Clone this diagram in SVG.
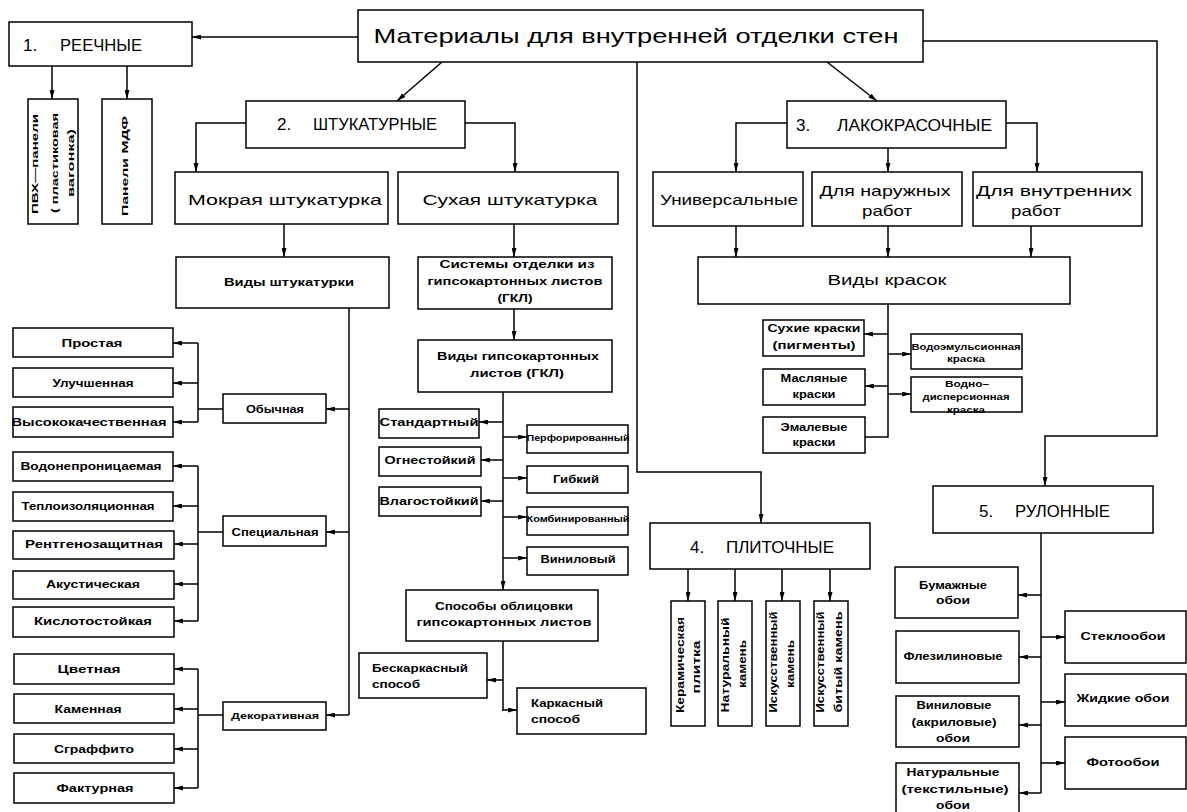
<svg xmlns="http://www.w3.org/2000/svg" width="1187" height="812" viewBox="0 0 1187 812">
<defs>
<marker id="a" markerWidth="9" markerHeight="5" refX="9" refY="2.5" orient="auto" markerUnits="userSpaceOnUse"><path d="M0,0 L9,2.5 L0,5 z" fill="#000"/></marker>
<style>
rect{fill:#fff;stroke:#000;stroke-width:1.5}
text{font-family:"Liberation Sans",Arial,sans-serif;fill:#000;dominant-baseline:central}
.c{text-anchor:middle}
.ti{font-size:21px}
.h{font-size:17px}
.m{font-size:15px}
.s{font-size:11px;font-weight:bold}
.x{font-size:9.5px;font-weight:bold}
#connectors path{fill:none;stroke:#000;stroke-width:1.5}
#connectors .ar{marker-end:url(#a)}
</style>
</defs>
<rect x="-5" y="-5" width="1200" height="830" style="fill:#fff;stroke:none"/>
<g id="connectors">
<path class="ar" d="M358,37 H192"/>
<path class="ar" d="M52,66 V99"/>
<path class="ar" d="M127,66 V99"/>
<path class="ar" d="M442,62 L397,101"/>
<path class="ar" d="M246,123 H196 V172"/>
<path class="ar" d="M465,123 H515 V172"/>
<path class="ar" d="M827,62 L877,101"/>
<path class="ar" d="M787,123 H736 V172"/>
<path class="ar" d="M888,148 V172"/>
<path class="ar" d="M1006,123 H1037 V172"/>
<path class="ar" d="M736,226 V257"/>
<path class="ar" d="M888,226 V257"/>
<path class="ar" d="M1031,226 V257"/>
<path class="ar" d="M923,41 H1157 V436 H1045 V486"/>
<path class="ar" d="M637,62 V472 H761 V523"/>
<path class="ar" d="M284,224 V257"/>
<path d="M349,308 V715"/>
<path class="ar" d="M349,409 H326"/>
<path class="ar" d="M349,532 H326"/>
<path class="ar" d="M349,715 H326"/>
<path d="M223,409 H198 M198,343 V422"/>
<path class="ar" d="M198,343 H173"/>
<path class="ar" d="M198,383 H173"/>
<path class="ar" d="M198,422 H173"/>
<path d="M223,532 H198 M198,466 V621"/>
<path class="ar" d="M198,466 H173"/>
<path class="ar" d="M198,506 H173"/>
<path class="ar" d="M198,544 H174"/>
<path class="ar" d="M198,584 H174"/>
<path class="ar" d="M198,621 H174"/>
<path d="M223,715 H198 M198,669 V788"/>
<path class="ar" d="M198,669 H174"/>
<path class="ar" d="M198,709 H174"/>
<path class="ar" d="M198,749 H174"/>
<path class="ar" d="M198,788 H174"/>
<path class="ar" d="M514,224 V257"/>
<path class="ar" d="M514,309 V340"/>
<path class="ar" d="M503,392 V590"/>
<path class="ar" d="M503,422 H479"/>
<path class="ar" d="M503,460 H481"/>
<path class="ar" d="M503,501 H481"/>
<path class="ar" d="M503,437 H527"/>
<path class="ar" d="M503,478 H527"/>
<path class="ar" d="M503,517 H527"/>
<path class="ar" d="M503,558 H527"/>
<path d="M503,641 V711"/>
<path class="ar" d="M503,680 H487"/>
<path class="ar" d="M503,710 H517"/>
<path d="M888,304 V437 H865"/>
<path class="ar" d="M888,334 H864"/>
<path class="ar" d="M888,386 H865"/>
<path class="ar" d="M888,354 H911"/>
<path class="ar" d="M888,394 H911"/>
<path class="ar" d="M688,569 V601"/>
<path class="ar" d="M735,569 V601"/>
<path class="ar" d="M782,569 V601"/>
<path class="ar" d="M830,569 V601"/>
<path d="M1041,533 V793"/>
<path class="ar" d="M1041,793 H1019"/>
<path class="ar" d="M1041,595 H1018"/>
<path class="ar" d="M1041,657 H1019"/>
<path class="ar" d="M1041,725 H1019"/>
<path class="ar" d="M1041,637 H1065"/>
<path class="ar" d="M1041,702 H1065"/>
<path class="ar" d="M1041,763 H1065"/>
</g>
<g id="main"><rect x="358" y="10" width="565" height="52"/><text class="c ti" x="636" y="35" textLength="525" lengthAdjust="spacingAndGlyphs">Материалы для внутренней отделки стен</text></g>
<g id="reech"><rect x="9" y="22" width="183" height="44"/><text class="h" x="23" y="45">1.</text><text class="h" x="60" y="45" textLength="82" lengthAdjust="spacingAndGlyphs">РЕЕЧНЫЕ</text></g>
<g id="pvh"><rect x="28" y="99" width="50" height="125"/><text class="c x" transform="translate(34,164) rotate(-90)" textLength="100" lengthAdjust="spacingAndGlyphs">ПВХ—панели</text><text class="c x" transform="translate(54,163) rotate(-90)" textLength="100" lengthAdjust="spacingAndGlyphs">( пластиковая</text><text class="c x" transform="translate(70,163) rotate(-90)" textLength="68" lengthAdjust="spacingAndGlyphs">вагонка)</text></g>
<g id="mdf"><rect x="102" y="99" width="50" height="125"/><text class="c x" transform="translate(124,166) rotate(-90)" textLength="100" lengthAdjust="spacingAndGlyphs">Панели МДФ</text></g>
<g id="shtuk"><rect x="246" y="101" width="219" height="47"/><text class="h" x="277" y="124">2.</text><text class="h" x="313" y="124" textLength="124" lengthAdjust="spacingAndGlyphs">ШТУКАТУРНЫЕ</text></g>
<g id="lak"><rect x="787" y="101" width="219" height="47"/><text class="h" x="796" y="125">3.</text><text class="h" x="837" y="125" textLength="155" lengthAdjust="spacingAndGlyphs">ЛАКОКРАСОЧНЫЕ</text></g>
<g id="plit"><rect x="650" y="523" width="220" height="46"/><text class="h" x="690" y="547">4.</text><text class="h" x="726" y="547" textLength="108" lengthAdjust="spacingAndGlyphs">ПЛИТОЧНЫЕ</text></g>
<g id="rul"><rect x="933" y="486" width="220" height="47"/><text class="h" x="979" y="511">5.</text><text class="h" x="1015" y="511" textLength="95" lengthAdjust="spacingAndGlyphs">РУЛОННЫЕ</text></g>
<g id="mokr"><rect x="175" y="172" width="213" height="52"/><text class="c m" x="285" y="199" textLength="194" lengthAdjust="spacingAndGlyphs">Мокрая штукатурка</text></g>
<g id="suh"><rect x="398" y="172" width="220" height="52"/><text class="c m" x="510" y="199" textLength="175" lengthAdjust="spacingAndGlyphs">Сухая штукатурка</text></g>
<g id="univ"><rect x="653" y="172" width="150" height="54"/><text class="c m" x="729" y="199" textLength="138" lengthAdjust="spacingAndGlyphs">Универсальные</text></g>
<g id="nar"><rect x="812" y="172" width="150" height="54"/><text class="c m" x="885" y="190" textLength="131" lengthAdjust="spacingAndGlyphs">Для наружных</text><text class="c m" x="887" y="210" textLength="50" lengthAdjust="spacingAndGlyphs">работ</text></g>
<g id="vnutr"><rect x="973" y="172" width="169" height="54"/><text class="c m" x="1054" y="190" textLength="156" lengthAdjust="spacingAndGlyphs">Для внутренних</text><text class="c m" x="1036" y="210" textLength="50" lengthAdjust="spacingAndGlyphs">работ</text></g>
<g id="vidy-sht"><rect x="176" y="257" width="213" height="51"/><text class="c s" x="289" y="282" textLength="130" lengthAdjust="spacingAndGlyphs">Виды штукатурки</text></g>
<g id="vidy-kr"><rect x="698" y="257" width="372" height="47"/><text class="c m" x="887" y="279" textLength="119" lengthAdjust="spacingAndGlyphs">Виды красок</text></g>
<g id="sist"><rect x="418" y="257" width="194" height="52"/><text class="c s" x="517" y="264" textLength="155" lengthAdjust="spacingAndGlyphs">Системы отделки из</text><text class="c s" x="515" y="281" textLength="175" lengthAdjust="spacingAndGlyphs">гипсокартонных листов</text><text class="c s" x="515" y="298" textLength="35" lengthAdjust="spacingAndGlyphs">(ГКЛ)</text></g>
<g id="vidy-gkl"><rect x="418" y="340" width="194" height="52"/><text class="c s" x="518" y="356" textLength="162" lengthAdjust="spacingAndGlyphs">Виды гипсокартонных</text><text class="c s" x="517" y="373" textLength="94" lengthAdjust="spacingAndGlyphs">листов (ГКЛ)</text></g>
<g id="prost"><rect x="13" y="328" width="160" height="29"/><text class="c s" x="92" y="343" textLength="61" lengthAdjust="spacingAndGlyphs">Простая</text></g>
<g id="uluch"><rect x="13" y="368" width="160" height="29"/><text class="c s" x="93" y="383" textLength="81" lengthAdjust="spacingAndGlyphs">Улучшенная</text></g>
<g id="vysok"><rect x="13" y="407" width="160" height="30"/><text class="c s" x="89" y="422" textLength="155" lengthAdjust="spacingAndGlyphs">Высококачественная</text></g>
<g id="obych"><rect x="223" y="394" width="103" height="29"/><text class="c s" x="275" y="409" textLength="58" lengthAdjust="spacingAndGlyphs">Обычная</text></g>
<g id="vodon"><rect x="13" y="452" width="160" height="29"/><text class="c s" x="91" y="466" textLength="141" lengthAdjust="spacingAndGlyphs">Водонепроницаемая</text></g>
<g id="teplo"><rect x="13" y="492" width="160" height="29"/><text class="c s" x="88" y="506" textLength="133" lengthAdjust="spacingAndGlyphs">Теплоизоляционная</text></g>
<g id="rentg"><rect x="13" y="531" width="161" height="28"/><text class="c s" x="94" y="544" textLength="138" lengthAdjust="spacingAndGlyphs">Рентгенозащитная</text></g>
<g id="akust"><rect x="13" y="571" width="161" height="28"/><text class="c s" x="93" y="584" textLength="94" lengthAdjust="spacingAndGlyphs">Акустическая</text></g>
<g id="kisl"><rect x="13" y="607" width="161" height="30"/><text class="c s" x="93" y="621" textLength="118" lengthAdjust="spacingAndGlyphs">Кислотостойкая</text></g>
<g id="spec"><rect x="223" y="516" width="103" height="30"/><text class="c s" x="275" y="532" textLength="87" lengthAdjust="spacingAndGlyphs">Специальная</text></g>
<g id="tsvet"><rect x="14" y="654" width="160" height="30"/><text class="c s" x="89" y="669" textLength="63" lengthAdjust="spacingAndGlyphs">Цветная</text></g>
<g id="kamen"><rect x="14" y="694" width="160" height="29"/><text class="c s" x="88" y="709" textLength="67" lengthAdjust="spacingAndGlyphs">Каменная</text></g>
<g id="sgraf"><rect x="14" y="734" width="160" height="29"/><text class="c s" x="94" y="749" textLength="80" lengthAdjust="spacingAndGlyphs">Сграффито</text></g>
<g id="faktur"><rect x="14" y="773" width="160" height="30"/><text class="c s" x="95" y="788" textLength="77" lengthAdjust="spacingAndGlyphs">Фактурная</text></g>
<g id="dekor"><rect x="223" y="702" width="103" height="28"/><text class="c x" x="275" y="715" textLength="88" lengthAdjust="spacingAndGlyphs">Декоративная</text></g>
<g id="stand"><rect x="379" y="409" width="100" height="29"/><text class="c s" x="429" y="422" textLength="99" lengthAdjust="spacingAndGlyphs">Стандартный</text></g>
<g id="ogn"><rect x="379" y="447" width="102" height="29"/><text class="c s" x="430" y="460" textLength="91" lengthAdjust="spacingAndGlyphs">Огнестойкий</text></g>
<g id="vlag"><rect x="379" y="487" width="102" height="29"/><text class="c s" x="429" y="501" textLength="99" lengthAdjust="spacingAndGlyphs">Влагостойкий</text></g>
<g id="perf"><rect x="527" y="425" width="101" height="28"/><text class="c x" x="578" y="437" textLength="103" lengthAdjust="spacingAndGlyphs">Перфорированный</text></g>
<g id="gibk"><rect x="527" y="466" width="101" height="27"/><text class="c s" x="576" y="479" textLength="46" lengthAdjust="spacingAndGlyphs">Гибкий</text></g>
<g id="komb"><rect x="527" y="507" width="101" height="28"/><text class="c x" x="578" y="518" textLength="103" lengthAdjust="spacingAndGlyphs">Комбинированный</text></g>
<g id="vinil"><rect x="527" y="547" width="101" height="28"/><text class="c s" x="578" y="559" textLength="75" lengthAdjust="spacingAndGlyphs">Виниловый</text></g>
<g id="sposoby"><rect x="406" y="590" width="192" height="51"/><text class="c s" x="504" y="606" textLength="138" lengthAdjust="spacingAndGlyphs">Способы облицовки</text><text class="c s" x="504" y="622" textLength="175" lengthAdjust="spacingAndGlyphs">гипсокартонных листов</text></g>
<g id="beskark"><rect x="359" y="653" width="128" height="45"/><text class="s" x="372" y="668" textLength="96" lengthAdjust="spacingAndGlyphs">Бескаркасный</text><text class="s" x="372" y="684" textLength="48" lengthAdjust="spacingAndGlyphs">способ</text></g>
<g id="kark"><rect x="517" y="688" width="129" height="46"/><text class="s" x="531" y="703" textLength="72" lengthAdjust="spacingAndGlyphs">Каркасный</text><text class="s" x="531" y="719" textLength="49" lengthAdjust="spacingAndGlyphs">способ</text></g>
<g id="suhie"><rect x="763" y="320" width="101" height="36"/><text class="c s" x="814" y="328" textLength="93" lengthAdjust="spacingAndGlyphs">Сухие краски</text><text class="c s" x="814" y="345" textLength="83" lengthAdjust="spacingAndGlyphs">(пигменты)</text></g>
<g id="masl"><rect x="763" y="369" width="102" height="36"/><text class="c s" x="814" y="378" textLength="67" lengthAdjust="spacingAndGlyphs">Масляные</text><text class="c s" x="814" y="394" textLength="43" lengthAdjust="spacingAndGlyphs">краски</text></g>
<g id="emal"><rect x="763" y="417" width="102" height="36"/><text class="c s" x="814" y="427" textLength="67" lengthAdjust="spacingAndGlyphs">Эмалевые</text><text class="c s" x="814" y="442" textLength="43" lengthAdjust="spacingAndGlyphs">краски</text></g>
<g id="vodoem"><rect x="911" y="334" width="111" height="35"/><text class="c x" x="966" y="346" textLength="109" lengthAdjust="spacingAndGlyphs">Водоэмульсионная</text><text class="c x" x="966" y="358" textLength="38" lengthAdjust="spacingAndGlyphs">краска</text></g>
<g id="vodnodisp"><rect x="911" y="377" width="111" height="35"/><text class="c x" x="967" y="383" textLength="44" lengthAdjust="spacingAndGlyphs">Водно–</text><text class="c x" x="966" y="396" textLength="87" lengthAdjust="spacingAndGlyphs">дисперсионная</text><text class="c x" x="966" y="409" textLength="38" lengthAdjust="spacingAndGlyphs">краска</text></g>
<g id="keram"><rect x="671" y="601" width="34" height="125"/><text class="c s" transform="translate(680,665) rotate(-90)" textLength="96" lengthAdjust="spacingAndGlyphs">Керамическая</text><text class="c s" transform="translate(696,667) rotate(-90)" textLength="53" lengthAdjust="spacingAndGlyphs">плитка</text></g>
<g id="natur"><rect x="718" y="601" width="34" height="125"/><text class="c s" transform="translate(725,665) rotate(-90)" textLength="95" lengthAdjust="spacingAndGlyphs">Натуральный</text><text class="c s" transform="translate(742,664) rotate(-90)" textLength="48" lengthAdjust="spacingAndGlyphs">камень</text></g>
<g id="iskus"><rect x="766" y="601" width="34" height="125"/><text class="c s" transform="translate(773,662) rotate(-90)" textLength="101" lengthAdjust="spacingAndGlyphs">Искусственный</text><text class="c s" transform="translate(790,664) rotate(-90)" textLength="48" lengthAdjust="spacingAndGlyphs">камень</text></g>
<g id="iskus-byt"><rect x="814" y="601" width="34" height="125"/><text class="c s" transform="translate(820,662) rotate(-90)" textLength="101" lengthAdjust="spacingAndGlyphs">Искусственный</text><text class="c s" transform="translate(838,662) rotate(-90)" textLength="101" lengthAdjust="spacingAndGlyphs">битый камень</text></g>
<g id="bumazh"><rect x="895" y="567" width="123" height="51"/><text class="c s" x="953" y="585" textLength="68" lengthAdjust="spacingAndGlyphs">Бумажные</text><text class="c s" x="953" y="600" textLength="34" lengthAdjust="spacingAndGlyphs">обои</text></g>
<g id="flez"><rect x="896" y="631" width="123" height="52"/><text class="c s" x="953" y="656" textLength="99" lengthAdjust="spacingAndGlyphs">Флезилиновые</text></g>
<g id="vinilob"><rect x="896" y="696" width="123" height="51"/><text class="c s" x="954" y="705" textLength="75" lengthAdjust="spacingAndGlyphs">Виниловые</text><text class="c s" x="954" y="722" textLength="85" lengthAdjust="spacingAndGlyphs">(акриловые)</text><text class="c s" x="953" y="738" textLength="34" lengthAdjust="spacingAndGlyphs">обои</text></g>
<g id="natob"><rect x="896" y="763" width="123" height="60"/><text class="c s" x="953" y="772" textLength="93" lengthAdjust="spacingAndGlyphs">Натуральные</text><text class="c s" x="955" y="789" textLength="107" lengthAdjust="spacingAndGlyphs">(текстильные)</text><text class="c s" x="953" y="805" textLength="34" lengthAdjust="spacingAndGlyphs">обои</text></g>
<g id="steklo"><rect x="1065" y="611" width="121" height="52"/><text class="c s" x="1123" y="636" textLength="85" lengthAdjust="spacingAndGlyphs">Стеклообои</text></g>
<g id="zhidk"><rect x="1065" y="674" width="121" height="52"/><text class="c s" x="1123" y="698" textLength="93" lengthAdjust="spacingAndGlyphs">Жидкие обои</text></g>
<g id="foto"><rect x="1065" y="737" width="121" height="52"/><text class="c s" x="1123" y="762" textLength="73" lengthAdjust="spacingAndGlyphs">Фотообои</text></g>
</svg>
